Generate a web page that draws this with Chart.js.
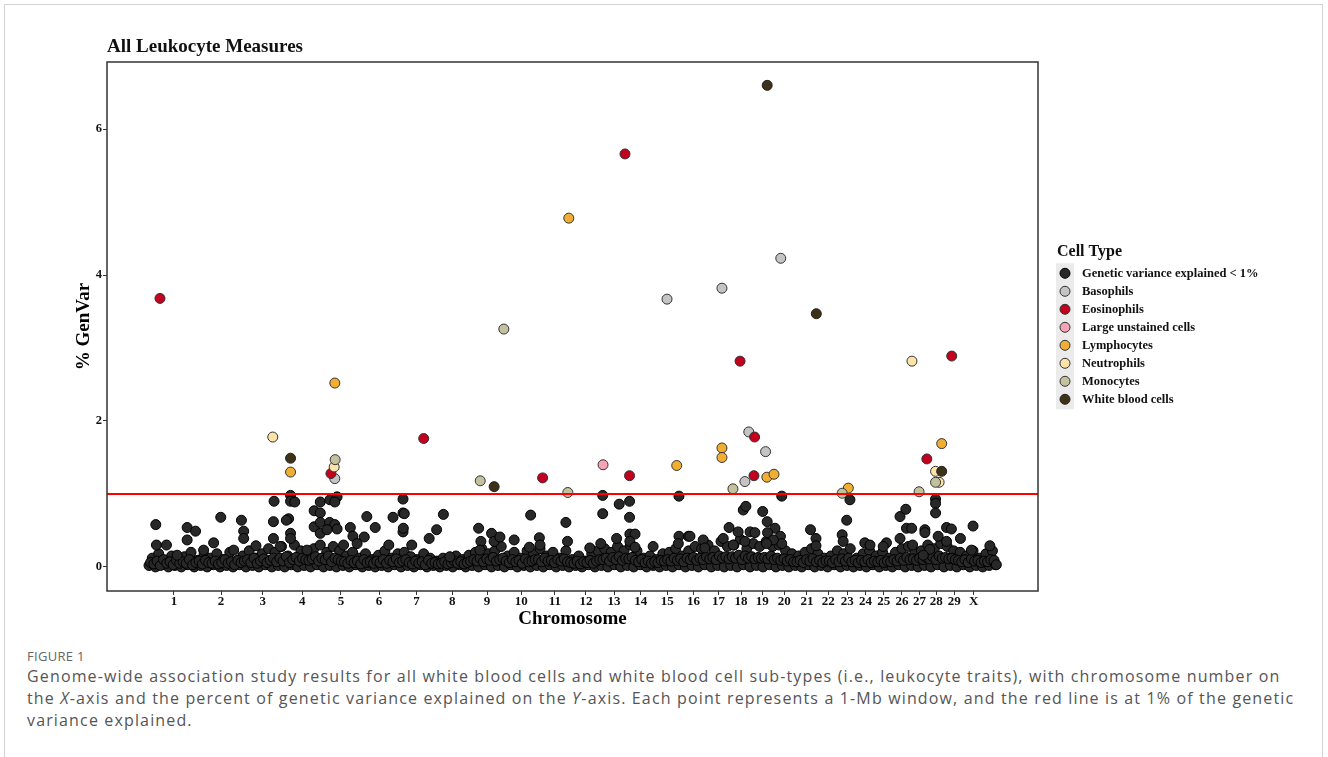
<!DOCTYPE html>
<html><head><meta charset="utf-8">
<script src="https://cdn.jsdelivr.net/npm/chart.js@4.4.1/dist/chart.umd.min.js"></script>
<style>
html,body{margin:0;padding:0;background:#fff;}
body{width:1328px;height:757px;position:relative;overflow:hidden;}
#frame{position:absolute;left:4px;top:4px;width:1319px;height:800px;border:1px solid #d4d4d4;box-sizing:border-box;}
#wrap{position:absolute;left:0;top:0;width:1328px;height:630px;}
#cap{position:absolute;left:27px;top:647px;width:1295px;font-family:"Open Sans",sans-serif;color:#555;white-space:nowrap;}
#cap .fig{font-size:13px;line-height:18px;color:#666;letter-spacing:0.3px;}
#cap .txt{font-size:16px;line-height:22px;letter-spacing:1.15px;}
</style></head>
<body>
<div id="frame"></div>
<div id="wrap"><canvas id="c" width="1328" height="630"></canvas></div>
<div id="cap"><div class="fig">FIGURE 1</div><div class="txt">Genome-wide association study results for all white blood cells and white blood cell sub-types (i.e., leukocyte traits), with chromosome number on<br>the <i>X</i>-axis and the percent of genetic variance explained on the <i>Y</i>-axis. Each point represents a 1-Mb window, and the red line is at 1% of the genetic<br>variance explained.</div></div>
<script>
// ---------- DATA (cumulative genome position in Mb, % genetic variance) ----------
const chromLabels = ["1","2","3","4","5","6","7","8","9","10","11","12","13","14","15","16","17","18","19","20","21","22","23","24","25","26","27","28","29","X"];
const chromTicks = [77,223,352,474,594,712,828,938,1046,1152,1256,1352,1439,1522,1604,1685,1762,1832,1898,1966,2036,2102,2161,2217,2274,2330,2384,2436,2492,2552];
const yTickValues = [0,2,4,6];
const threshold = 1;

// dense low band of 1-Mb windows, read every 10 Mb starting at 0 Mb
const lowWindowStep = 10;
const lowWindows = [
0.02,0.12,0,0.18,0.03,0.08,0,0.15,0.02,0.1,
0,0.14,0.03,0.2,0,0.09,0.02,0.16,0,0.12,
0.03,0.18,0,0.1,0.02,0.2,0,0.08,0.03,0.15,
0,0.22,0.02,0.12,0,0.18,0.03,0.25,0,0.2,
0.02,0.28,0,0.15,0.03,0.3,0,0.22,0.02,0.18,
0,0.25,0.03,0.3,0,0.2,0.02,0.28,0,0.22,
0.02,0.15,0,0.2,0.03,0.12,0,0.18,0.02,0.1,
0,0.16,0.02,0.22,0,0.12,0.03,0.18,0,0.2,
0.02,0.14,0,0.1,0.03,0.18,0,0.12,0.02,0.08,
0,0.12,0.02,0.08,0,0.15,0.03,0.1,0,0.16,
0.02,0.2,0,0.25,0.03,0.18,0,0.22,0.02,0.28,
0,0.15,0.03,0.2,0,0.12,0.02,0.22,0,0.18,
0.02,0.25,0,0.15,0.03,0.2,0,0.12,0.02,0.22,
0,0.1,0.02,0.15,0,0.08,0.03,0.18,0,0.22,
0.02,0.25,0,0.2,0.03,0.28,0,0.22,0.02,0.3,
0,0.22,0.03,0.12,0,0.15,0.02,0.1,0,0.18,
0.02,0.2,0,0.25,0.03,0.15,0,0.22,0.02,0.28,
0,0.25,0.03,0.3,0,0.22,0.02,0.35,0,0.28,
0.02,0.3,0,0.38,0.03,0.25,0,0.32,0.02,0.28,
0,0.35,0.03,0.28,0,0.3,0.02,0.22,0,0.18,
0.02,0.15,0,0.2,0.03,0.25,0,0.18,0.02,0.12,
0,0.15,0.03,0.22,0,0.18,0.02,0.25,0,0.12,
0.02,0.18,0,0.22,0.03,0.15,0,0.2,0.02,0.12,
0,0.2,0.03,0.25,0,0.28,0.02,0.2,0,0.22,
0.02,0.3,0,0.25,0.03,0.32,0,0.28,0.02,0.22,
0,0.2,0.03,0.15,0,0.22,0.02,0.12,0,0.18,
0.02,0.22,0.03];
// windows in between, read every 10 Mb starting at 5 Mb
const lowWindowsOffset = 5;
const lowWindowsMid = [
0.06,0.04,0.08,0.02,0.1,0.05,0.07,0.03,0.09,0.05,
0.07,0.05,0.1,0.03,0.06,0.08,0.04,0.09,0.06,0.05,
0.08,0.04,0.06,0.1,0.05,0.07,0.03,0.09,0.06,0.08,
0.1,0.06,0.12,0.05,0.08,0.11,0.06,0.09,0.12,0.07,
0.12,0.08,0.14,0.06,0.1,0.13,0.08,0.12,0.1,0.09,
0.11,0.14,0.08,0.12,0.1,0.15,0.07,0.12,0.1,0.08,
0.07,0.05,0.09,0.06,0.08,0.04,0.1,0.06,0.07,0.05,
0.08,0.06,0.1,0.05,0.09,0.07,0.11,0.06,0.08,0.1,
0.06,0.04,0.08,0.05,0.07,0.03,0.09,0.05,0.06,0.04,
0.05,0.07,0.04,0.06,0.08,0.05,0.07,0.04,0.06,0.08,
0.1,0.08,0.12,0.07,0.11,0.09,0.13,0.08,0.1,0.12,
0.08,0.06,0.1,0.07,0.09,0.05,0.11,0.07,0.08,0.1,
0.1,0.07,0.12,0.08,0.09,0.06,0.1,0.08,0.11,0.07,
0.06,0.05,0.08,0.04,0.07,0.06,0.09,0.05,0.08,0.1,
0.1,0.12,0.08,0.13,0.1,0.14,0.09,0.12,0.11,0.13,
0.09,0.07,0.1,0.06,0.08,0.05,0.07,0.06,0.09,0.08,
0.1,0.08,0.12,0.09,0.11,0.07,0.12,0.1,0.13,0.09,
0.12,0.1,0.14,0.11,0.13,0.1,0.15,0.12,0.14,0.11,
0.14,0.12,0.16,0.1,0.15,0.12,0.14,0.11,0.13,0.12,
0.13,0.11,0.15,0.1,0.12,0.09,0.11,0.08,0.1,0.07,
0.07,0.09,0.06,0.1,0.08,0.11,0.07,0.09,0.06,0.08,
0.08,0.06,0.1,0.07,0.11,0.08,0.12,0.07,0.09,0.06,
0.09,0.07,0.1,0.06,0.08,0.07,0.09,0.06,0.08,0.07,
0.1,0.08,0.12,0.09,0.13,0.1,0.11,0.09,0.12,0.1,
0.13,0.11,0.14,0.1,0.15,0.12,0.13,0.11,0.12,0.1,
0.09,0.07,0.1,0.06,0.11,0.08,0.09,0.06,0.08,0.07,
0.1,0.09];

// scattered windows below 1% [position, value]
const belowOnePct = [
[21,0.58],[118,0.54],[144,0.49],[118,0.37],[222,0.68],[286,0.64],[293,0.49],[293,0.39],[200,0.33],[23,0.30],[54,0.30],[331,0.29],
[387,0.90],[385,0.62],[385,0.39],[438,0.98],[438,0.90],[451,0.89],[432,0.66],[425,0.64],[438,0.46],[438,0.39],
[530,0.89],[511,0.77],[530,0.74],[511,0.55],[530,0.61],[560,0.92],[582,0.96],[575,0.89],[559,0.61],[575,0.58],[582,0.52],[530,0.46],[551,0.51],
[623,0.54],[631,0.42],[674,0.69],[700,0.54],[666,0.41],[755,0.68],[786,0.93],[786,0.74],[786,0.48],[742,0.30],[644,0.32],[602,0.30],[489,0.23],[406,0.28],[262,0.23],[169,0.23],[87,0.16],
[790,0.73],[787,0.53],[911,0.72],[890,0.51],[867,0.39],[813,0.30],[1020,0.53],[1027,0.35],[1060,0.46],[1068,0.35],[1086,0.41],[1130,0.37],
[1181,0.71],[1208,0.40],[1177,0.27],[1290,0.61],[1295,0.35],[1404,0.98],[1404,0.73],[1455,0.86],[1487,0.90],[1487,0.68],[1488,0.45],[1504,0.45],
[1447,0.39],[1488,0.35],[1504,0.27],[1398,0.32],[1364,0.26],[1640,0.97],[1640,0.42],[1669,0.42],[1638,0.32],[1560,0.28],[1024,0.23],[931,0.14],[1210,0.30],
[1674,0.42],[1715,0.37],[1720,0.26],[1777,0.39],[1795,0.54],[1808,0.30],[1823,0.48],[1839,0.78],[1847,0.83],[1860,0.48],[1875,0.47],[1844,0.35],
[1899,0.76],[1913,0.62],[1937,0.53],[1914,0.47],[1958,0.97],[1954,0.42],[1958,0.32],[1932,0.37],[1911,0.32],[2047,0.51],[2064,0.39],[2064,0.29],
[2159,0.64],[2169,0.92],[2145,0.44],[2148,0.35],[2215,0.33],[2231,0.30],[2282,0.33],[2272,0.28],[2324,0.69],[2342,0.79],[2324,0.39],[2344,0.53],
[2360,0.53],[2363,0.30],[2401,0.51],[2401,0.47],[2434,0.93],[2434,0.87],[2434,0.74],[2442,0.42],[2468,0.54],[2483,0.52],[2468,0.35],[2511,0.39],
[2550,0.56],[2545,0.23],[2602,0.29],[2416,0.24],[2396,0.16],[2622,0.03]];

const basophils = [[575,1.21],[1603,3.67],[1773,3.82],[1856,1.85],[1908,1.58],[1844,1.17],[1955,4.23]];
const eosinophils = [[34,3.68],[563,1.28],[850,1.76],[1218,1.22],[1473,5.66],[1487,1.25],[1829,2.82],[1874,1.78],[1872,1.25],[2407,1.48],[2484,2.89]];
const largeUnstained = [[1405,1.40]];
const lymphocytes = [[438,1.30],[575,2.52],[1299,4.78],[1633,1.39],[1773,1.63],[1773,1.50],[1912,1.23],[1934,1.27],[2164,1.08],[2453,1.69]];
const neutrophils = [[383,1.78],[573,1.37],[2361,2.82],[2434,1.31],[2445,1.16]];
const monocytes = [[576,1.47],[1098,3.26],[1025,1.18],[1296,1.02],[1807,1.07],[2145,1.01],[2383,1.03],[2434,1.16]];
const whiteBloodCells = [[438,1.49],[1068,1.10],[1913,6.60],[2065,3.47],[2453,1.31]];

// ---------- CHART ----------
const serif = "'Liberation Serif','Times New Roman',serif";
const toXY = arr => arr.map(p => ({x:p[0], y:p[1]}));
const lowData = lowWindows.map((v,i) => ({x:i*lowWindowStep, y:v}));
const midData = lowWindowsMid.map((v,i) => ({x:lowWindowsOffset + i*lowWindowStep, y:v}));

const cellTypes = [
  {label:"Genetic variance explained < 1%", bg:"#282828", bd:"#000000"},
  {label:"Basophils", bg:"#c4c4c4", bd:"#333333", data:basophils},
  {label:"Eosinophils", bg:"#c4001f", bd:"#333333", data:eosinophils},
  {label:"Large unstained cells", bg:"#f5a3b5", bd:"#333333", data:largeUnstained},
  {label:"Lymphocytes", bg:"#f0ae32", bd:"#333333", data:lymphocytes},
  {label:"Neutrophils", bg:"#fde3a7", bd:"#333333", data:neutrophils},
  {label:"Monocytes", bg:"#c4c29e", bd:"#333333", data:monocytes},
  {label:"White blood cells", bg:"#3d3218", bd:"#222222", data:whiteBloodCells}
];

const X_MIN = -130, X_MAX = 2751, Y_MIN = -0.33, Y_MAX = 6.92;
const base = cellTypes[0];
const datasets = [
  {label:base.label, data:lowData, backgroundColor:base.bg, borderColor:base.bd, borderWidth:1, pointRadius:5, order:21},
  {label:base.label+" (mid)", data:midData, backgroundColor:base.bg, borderColor:base.bd, borderWidth:1, pointRadius:5, order:20},
  {label:base.label+" (scattered)", data:toXY(belowOnePct), backgroundColor:base.bg, borderColor:base.bd, borderWidth:1, pointRadius:5, order:19}
];
cellTypes.slice(1).forEach((t,i) => datasets.push({label:t.label, data:toXY(t.data), backgroundColor:t.bg, borderColor:t.bd, borderWidth:1, pointRadius:5, order:10-i}));
datasets.push({type:'line', label:'1% threshold', data:[{x:X_MIN,y:threshold},{x:X_MAX,y:threshold}], borderColor:'#ff0000', borderWidth:2, pointRadius:0, order:0});

const decor = {
  id:'decor',
  afterDatasetsDraw(chart){
    const {ctx, chartArea:a} = chart;
    ctx.save();
    ctx.strokeStyle = '#333'; ctx.lineWidth = 1.5;
    ctx.strokeRect(a.left, a.top, a.right-a.left, a.bottom-a.top);
    ctx.restore();
  },
  afterDraw(chart){
    const {ctx, chartArea:a} = chart;
    ctx.save();
    ctx.fillStyle = '#111'; ctx.textBaseline = 'alphabetic'; ctx.textAlign = 'left';
    ctx.font = "bold 19px " + serif;
    ctx.fillText("All Leukocyte Measures", a.left, 52);
    const lx = 1065, ly0 = 273.3, dy = 18;
    ctx.fillStyle = '#ebebeb';
    ctx.fillRect(lx-9, ly0-10, 18, dy*(cellTypes.length-1)+20);
    ctx.fillStyle = '#111';
    ctx.font = "bold 16px " + serif;
    ctx.fillText("Cell Type", 1057, 256);
    ctx.font = "bold 12.5px " + serif;
    ctx.textBaseline = 'middle';
    cellTypes.forEach((t,i) => {
      const y = ly0 + i*dy;
      ctx.beginPath(); ctx.arc(lx, y, 5, 0, Math.PI*2);
      ctx.fillStyle = t.bg; ctx.fill();
      ctx.lineWidth = 1; ctx.strokeStyle = t.bd; ctx.stroke();
      ctx.fillStyle = '#111';
      ctx.fillText(t.label, 1082, y+0.5);
    });
    ctx.restore();
  }
};

new Chart(document.getElementById('c'), {
  type:'scatter',
  data:{datasets},
  plugins:[decor],
  options:{
    responsive:false, animation:false, devicePixelRatio:1,
    layout:{padding:{left:73, right:290, top:62, bottom:0}},
    plugins:{legend:{display:false}, tooltip:{enabled:false}, title:{display:false}},
    scales:{
      x:{
        type:'linear', min:X_MIN, max:X_MAX,
        afterBuildTicks: s => { s.ticks = chromTicks.map(v => ({value:v})); },
        afterFit: s => { s.height = 39; },
        ticks:{autoSkip:false, maxRotation:0, minRotation:0, padding:-1, color:'#111',
          font:{family:serif, size:13, weight:'bold'},
          callback:(v,i) => chromLabels[i]},
        grid:{drawOnChartArea:false, drawTicks:true, tickLength:4, color:'#333', lineWidth:1},
        border:{display:false},
        title:{display:true, text:'Chromosome', color:'#000', padding:0, font:{family:serif, size:19, weight:'bold'}}
      },
      y:{
        type:'linear', min:Y_MIN, max:Y_MAX,
        afterBuildTicks: s => { s.ticks = yTickValues.map(v => ({value:v})); },
        afterFit: s => { s.width = 34; },
        ticks:{padding:1, color:'#111', font:{family:serif, size:12.5, weight:'bold'}},
        grid:{drawOnChartArea:false, drawTicks:true, tickLength:4, color:'#333', lineWidth:1},
        border:{display:false},
        title:{display:true, text:'% GenVar', color:'#000', padding:0, font:{family:serif, size:19, weight:'bold'}}
      }
    }
  }
});
</script>
</body></html>
